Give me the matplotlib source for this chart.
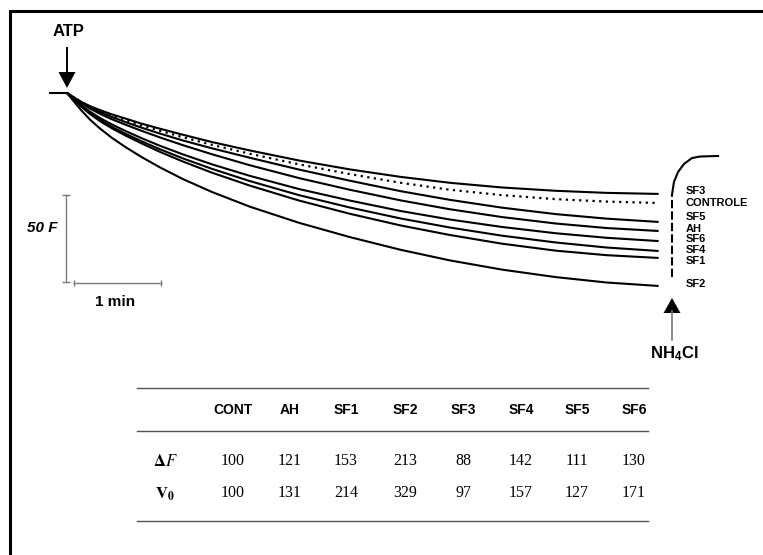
import matplotlib
matplotlib.use('Agg')
import matplotlib.pyplot as plt

plt.rcParams['font.family'] = 'Liberation Sans'
plt.rcParams['mathtext.fontset'] = 'custom'
plt.rcParams['mathtext.rm'] = 'Liberation Sans'
plt.rcParams['mathtext.bf'] = 'Liberation Sans:bold'
plt.rcParams['mathtext.it'] = 'Liberation Sans:italic'

# fluorescence traces: time after ATP (s) vs change in fluorescence (F units)
t = [0, 5, 10, 16, 23, 31, 40, 51, 64, 80, 100, 126, 160, 195, 230, 264, 300, 337, 372, 408]
sf3 = [0, -2.7, -5.2, -7.6, -9.9, -12.3, -14.6, -17.5, -20.5, -24.0,
       -28.2, -33.0, -38.8, -43.9, -48.2, -51.6, -54.3, -56.2, -57.4, -58.0]
controle = [0, -2.7, -5.3, -7.9, -10.5, -13.0, -15.5, -18.5, -21.7, -25.4,
            -29.8, -34.9, -41.0, -46.6, -51.6, -55.6, -58.7, -61.0, -62.4, -63.2]
sf5 = [0, -2.8, -5.5, -8.3, -11.0, -13.8, -16.6, -19.8, -23.3, -27.3,
       -31.8, -37.2, -44.0, -50.4, -56.4, -61.4, -65.9, -69.6, -72.2, -74.1]
ah = [0, -3.0, -5.9, -9.0, -12.1, -15.1, -18.1, -21.6, -25.5, -30.0,
      -35.2, -41.5, -48.9, -55.6, -61.7, -66.8, -71.3, -75.0, -77.6, -79.3]
sf6 = [0, -3.6, -7.1, -10.8, -14.5, -18.1, -21.7, -25.8, -30.3, -35.3,
       -41.0, -47.6, -55.2, -61.8, -67.8, -72.7, -77.0, -80.6, -83.2, -85.1]
sf4 = [0, -3.9, -7.7, -11.7, -15.6, -19.5, -23.3, -27.6, -32.3, -37.6,
       -43.6, -50.6, -58.7, -65.8, -72.1, -77.3, -82.0, -85.9, -88.8, -90.8]
sf1 = [0, -4.0, -8.0, -12.2, -16.3, -20.3, -24.3, -28.8, -33.8, -39.4,
       -45.8, -53.2, -61.8, -69.4, -76.1, -81.6, -86.6, -90.6, -93.2, -94.8]
sf2 = [0, -5.1, -10.1, -15.4, -20.6, -25.8, -30.9, -36.6, -42.7, -49.5,
       -56.9, -65.3, -74.6, -82.8, -90.1, -96.2, -101.5, -105.8, -108.9, -110.9]

baseline_t = [-12, 0]
baseline_f = [0, 0]

# NH4Cl addition: dashed drop line, then recovery
nh4_drop_t = [417.2, 417.2]
nh4_drop_f = [-105.7, -58.6]
nh4_rec_t = [417.2, 418.6, 421.4, 425.5, 431.0, 436.6, 449.0]
nh4_rec_f = [-58.6, -51.1, -45.4, -40.8, -37.4, -36.5, -36.2]

trace_labels = ['SF3', 'CONTROLE', 'SF5', 'AH', 'SF6', 'SF4', 'SF1', 'SF2']
label_y = [191.5, 202.7, 217.5, 228.8, 239.4, 249.6, 260.6, 284]

# table
cols = ['CONT', 'AH', 'SF1', 'SF2', 'SF3', 'SF4', 'SF5', 'SF6']
delta_f = [100, 121, 153, 213, 88, 142, 111, 130]
v0 = [100, 131, 214, 329, 97, 157, 127, 171]

fig = plt.figure(figsize=(7.63, 5.55), dpi=100)

# pixel-space layer for frame, arrows, text and table
ax = fig.add_axes([0, 0, 1, 1])
ax.set_xlim(0, 763)
ax.set_ylim(555, 0)
ax.axis('off')

# trace layer: 1.45 px per s, 1.74 px per F, origin at ATP addition
tr = fig.add_axes([0, 0, 1, 1])
tr.set_xlim(-67 / 1.45, (763 - 67) / 1.45)
tr.set_ylim(-(555 - 93) / 1.74, 93 / 1.74)
tr.axis('off')
tr.patch.set_alpha(0)

lw = 1.5
tr.plot(baseline_t, baseline_f, color='black', lw=lw)
for vals in [sf3, sf5, ah, sf6, sf4, sf1, sf2]:
    tr.plot(t, vals, color='black', lw=lw, solid_capstyle='butt')
tr.plot(t, controle, color='black', lw=1.6, linestyle=(0, (1, 2)))
tr.plot(nh4_drop_t, nh4_drop_f, color='black', lw=lw, linestyle=(0, (4, 1.5)))
tr.plot(nh4_rec_t, nh4_rec_f, color='black', lw=lw)

# scale bars: 50 F and 1 min
grey = '#7a7a7a'
tr.plot([-0.7, -0.7], [-58.6, -108.6], color=grey, lw=1,
        marker='_', markersize=6, markeredgewidth=1)
tr.plot([5, 65], [-109.2, -109.2], color=grey, lw=1,
        marker='|', markersize=5, markeredgewidth=1)
ax.text(42, 228, '50 F', fontsize=11, fontweight='bold', fontstyle='italic',
        ha='center', va='center')
ax.text(115, 302, '1 min', fontsize=11, fontweight='bold', ha='center', va='center')

# ATP arrow
ax.text(69, 32, 'ATP', fontsize=12, fontweight='bold', ha='center', va='center')
ax.plot([67, 67], [48, 74], color='black', lw=1.4)
ax.fill([58.5, 75.5, 67], [72, 72, 88], color='black', lw=0)

# NH4Cl arrow
ax.plot([672, 672], [311, 340], color=grey, lw=1.2)
ax.fill([663.5, 680.5, 672], [313, 313, 298], color='black', lw=0)
ax.text(674, 354, r'NH$_\mathbf{4}$Cl', fontsize=12, fontweight='bold',
        ha='center', va='center')

for name, y in zip(trace_labels, label_y):
    ax.text(686, y, name, fontsize=8, fontweight='bold', ha='left', va='center')

# frame on top and left edges
ax.plot([10, 10, 763], [555, 11, 11], color='black', lw=2.2,
        solid_joinstyle='miter')

# table
col_x = [233, 290, 346, 405, 463, 521, 577, 634]
line_x = [137, 648]
for y in [388, 431, 521]:
    ax.plot(line_x, [y, y], color='#555555', lw=1)
for x, c, d, v in zip(col_x, cols, delta_f, v0):
    ax.text(x, 410, c, fontsize=10, fontweight='bold', ha='center', va='center')
    ax.text(x, 461, str(d), fontsize=11.5, family='Liberation Serif',
            ha='center', va='center')
    ax.text(x, 493, str(v), fontsize=11.5, family='Liberation Serif',
            ha='center', va='center')
ax.text(165, 461, r'$\mathbf{\Delta}\mathit{F}$', fontsize=12,
        ha='center', va='center', math_fontfamily='stix')
ax.text(165, 494, r'$\mathbf{V}_\mathbf{0}$', fontsize=12,
        ha='center', va='center', math_fontfamily='stix')

fig.savefig('out.png', dpi=100, facecolor='white')
